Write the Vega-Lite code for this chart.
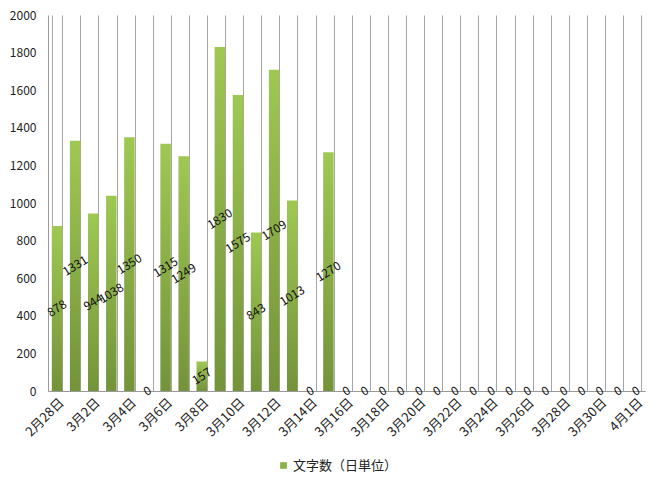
{
  "$schema": "https://vega.github.io/schema/vega-lite/v6.json",
  "width": 597,
  "height": 376,
  "autosize": "none",
  "padding": {"left": 48, "top": 15, "right": 18, "bottom": 96},
  "config": {
    "font": "Noto Sans CJK JP",
    "view": {"stroke": null},
    "axis": {"labelColor": "#222", "domainColor": "#999"},
    "axisY": {
      "values": [0, 200, 400, 600, 800, 1000, 1200, 1400, 1600, 1800, 2000],
      "format": "d",
      "ticks": false,
      "labelPadding": 12,
      "labelOverlap": false,
      "labelFlush": false,
      "grid": false,
      "labelFontSize": 12
    }
  },
  "data": {
    "values": [
      {"day": "2月28日", "count": 878},
      {"day": "3月1日", "count": 1331},
      {"day": "3月2日", "count": 944},
      {"day": "3月3日", "count": 1038},
      {"day": "3月4日", "count": 1350},
      {"day": "3月5日", "count": 0},
      {"day": "3月6日", "count": 1315},
      {"day": "3月7日", "count": 1249},
      {"day": "3月8日", "count": 157},
      {"day": "3月9日", "count": 1830},
      {"day": "3月10日", "count": 1575},
      {"day": "3月11日", "count": 843},
      {"day": "3月12日", "count": 1709},
      {"day": "3月13日", "count": 1013},
      {"day": "3月14日", "count": 0},
      {"day": "3月15日", "count": 1270},
      {"day": "3月16日", "count": 0},
      {"day": "3月17日", "count": 0},
      {"day": "3月18日", "count": 0},
      {"day": "3月19日", "count": 0},
      {"day": "3月20日", "count": 0},
      {"day": "3月21日", "count": 0},
      {"day": "3月22日", "count": 0},
      {"day": "3月23日", "count": 0},
      {"day": "3月24日", "count": 0},
      {"day": "3月25日", "count": 0},
      {"day": "3月26日", "count": 0},
      {"day": "3月27日", "count": 0},
      {"day": "3月28日", "count": 0},
      {"day": "3月29日", "count": 0},
      {"day": "3月30日", "count": 0},
      {"day": "3月31日", "count": 0},
      {"day": "4月1日", "count": 0}
    ]
  },
  "transform": [
    {"calculate": "'文字数（日単位）'", "as": "series"},
    {"calculate": "datum.count / 2", "as": "labelPos"}
  ],
  "encoding": {
    "x": {
      "field": "day",
      "type": "ordinal",
      "sort": null,
      "title": null,
      "scale": {"paddingInner": 0.42, "paddingOuter": 0.21},
      "axis": {
        "labelAngle": -45,
        "labelFontSize": 13,
        "labelPadding": 5,
        "labelOverlap": false,
        "labelExpr": "test(/^(2月28日|4月1日|3月[0-9]*[02468]日)$/, datum.value) ? datum.value : ''",
        "tickBand": "extent",
        "grid": true,
        "gridColor": "#a6a6a6",
        "tickColor": "#a6a6a6",
        "tickSize": 0
      }
    }
  },
  "layer": [
    {
      "mark": {
        "type": "bar",
        "color": {
          "gradient": "linear",
          "x1": 0, "y1": 0, "x2": 0, "y2": 1,
          "stops": [
            {"offset": 0, "color": "#9fc852"},
            {"offset": 1, "color": "#74933a"}
          ]
        }
      },
      "encoding": {
        "y": {
          "field": "count",
          "type": "quantitative",
          "title": null,
          "scale": {"domain": [0, 2000]}
        }
      }
    },
    {
      "mark": {"type": "square", "size": 0, "opacity": 1},
      "encoding": {
        "y": {"field": "labelPos", "type": "quantitative", "title": null},
        "color": {
          "field": "series",
          "type": "nominal",
          "title": null,
          "scale": {"range": ["#8ab346"]},
          "legend": {
            "orient": "none",
            "legendX": 229,
            "legendY": 444,
            "symbolType": "square",
            "symbolSize": 45,
            "symbolOpacity": 1,
            "symbolStrokeWidth": 0,
            "labelFontSize": 13,
            "labelColor": "#222",
            "labelOffset": 3
          }
        }
      }
    },
    {
      "mark": {"type": "text", "angle": -32, "fontSize": 12, "color": "#111", "align": "center", "baseline": "middle"},
      "encoding": {
        "y": {"field": "labelPos", "type": "quantitative", "title": null},
        "text": {"field": "count", "type": "quantitative"}
      }
    }
  ]
}
